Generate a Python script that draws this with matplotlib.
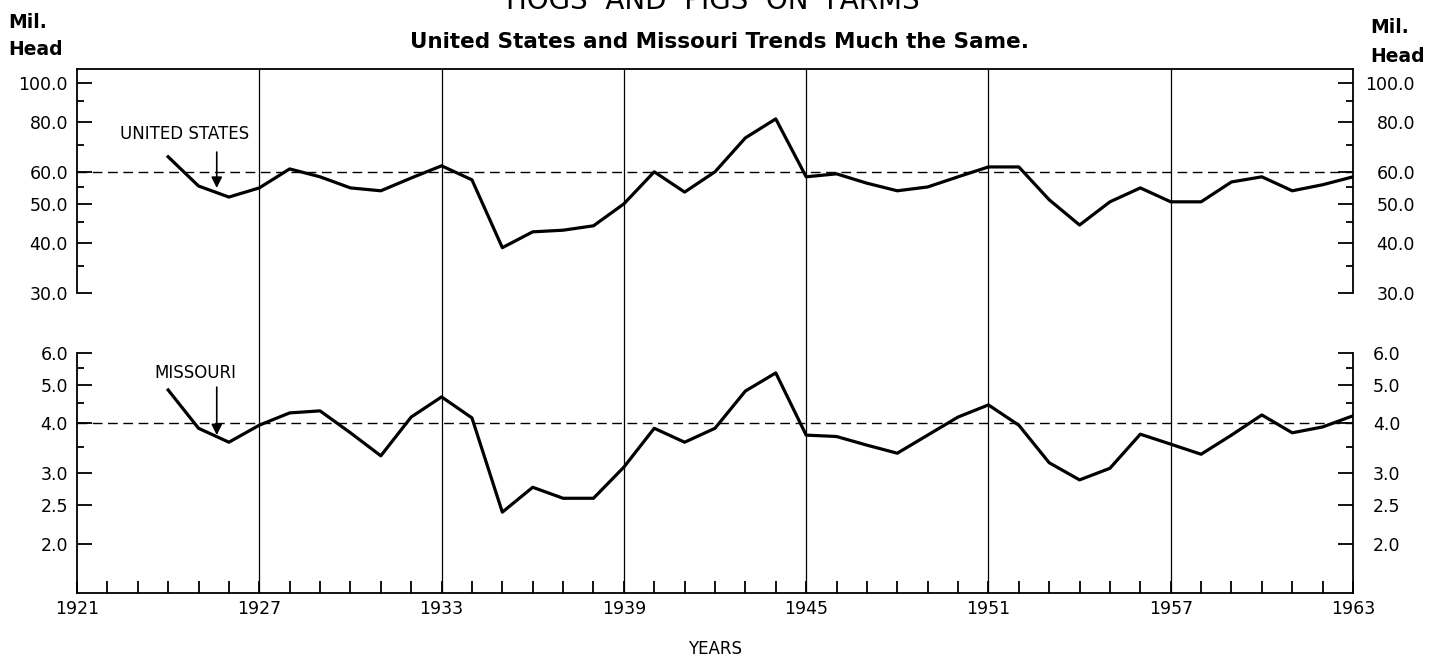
import matplotlib
matplotlib.use("Agg")
import matplotlib.pyplot as plt
from matplotlib.ticker import FixedLocator, NullFormatter

# hogs and pigs on farms, million head, January 1
years = list(range(1924, 1964))
us = [65.5, 55.4, 52.0, 54.8, 61.1, 58.4, 54.8, 53.9, 58.0, 62.2,
      57.4, 38.9, 42.6, 43.0, 44.1, 50.0, 60.1, 53.5, 60.1, 73.0,
      81.4, 58.4, 59.4, 56.3, 53.9, 55.1, 58.4, 61.8, 61.8, 51.2,
      44.3, 50.6, 54.8, 50.6, 50.6, 56.7, 58.4, 53.9, 55.8, 58.4]
missouri = [4.85, 3.89, 3.59, 3.96, 4.25, 4.30, 3.79, 3.32, 4.15, 4.66,
            4.13, 2.40, 2.77, 2.60, 2.60, 3.11, 3.89, 3.59, 3.89, 4.82,
            5.35, 3.74, 3.71, 3.53, 3.37, 3.74, 4.15, 4.45, 3.96, 3.19,
            2.89, 3.09, 3.76, 3.55, 3.35, 3.74, 4.20, 3.79, 3.92, 4.18]

us_ticks = [30, 40, 50, 60, 80, 100]
us_minor = [35, 45, 55, 70, 90]
mo_ticks = [2.0, 2.5, 3.0, 4.0, 5.0, 6.0]
mo_minor = [3.5, 4.5, 5.5]
year_labels = list(range(1921, 1964, 6))
us_ref = 60
mo_ref = 4.0

W, H = 1439, 661
fig = plt.figure(figsize=(W / 100, H / 100), dpi=100)
fig.patch.set_facecolor("white")


def box(x0, y0, x1, y1):
    # pixel box (top-left origin) -> figure fraction rect
    return [x0 / W, 1 - y1 / H, (x1 - x0) / W, (y1 - y0) / H]


X0, X1 = 77, 1353
TOP, US_BOT, MO_TOP, BOT = 69, 293, 353, 593
font = "DejaVu Sans"

# background frame with the six-year lines
bg = fig.add_axes(box(X0, TOP, X1, BOT))
bg.set_xlim(1921, 1963)
bg.set_ylim(0, 1)
for s in ["left", "right", "bottom"]:
    bg.spines[s].set_visible(False)
bg.spines["top"].set_linewidth(1.3)
bg.set_xticks([])
bg.set_yticks([])
for yr in year_labels[1:-1]:
    bg.axvline(yr, color="black", lw=0.9)

# united states panel
ax1 = fig.add_axes(box(X0, TOP, X1, US_BOT))
ax1.set_facecolor("none")
ax1.set_yscale("log")
ax1.set_xlim(1921, 1963)
ax1.set_ylim(30, 100 * 10 ** (14 / 402))
ax1.spines["top"].set_visible(False)
ax1.spines["bottom"].set_visible(False)
for s in ["left", "right"]:
    ax1.spines[s].set_linewidth(1.3)
ax1.set_xticks([])
ax1.yaxis.set_major_locator(FixedLocator(us_ticks))
ax1.yaxis.set_minor_locator(FixedLocator(us_minor))
ax1.yaxis.set_minor_formatter(NullFormatter())
ax1.set_yticklabels(["%.1f" % v for v in us_ticks])
ax1.tick_params(axis="y", which="major", direction="in", length=11, width=1.3,
                left=True, right=True, labelleft=True, labelright=True,
                labelsize=12.5, pad=6.5)
ax1.tick_params(axis="y", which="minor", direction="in", length=5, width=1.3,
                left=True, right=True)
for t in ax1.yaxis.get_major_ticks():
    t.label2.set_horizontalalignment("right")
    t.label2.set_x(1 + 53 / (X1 - X0))
ax1.plot(years, us, color="black", lw=2.3)
ax1.axhline(us_ref, color="black", lw=1.0, ls=(0, (7, 4)))
ax1.text(1924.55, 74.5, "UNITED STATES", ha="center", va="center",
         fontsize=12, family=font)
ax1.annotate("", xy=(1925.6, 54.8), xytext=(1925.6, 67.3),
             arrowprops=dict(arrowstyle="-|>", color="black", lw=1.2,
                             mutation_scale=16, shrinkA=0, shrinkB=0))

# missouri panel
ax2 = fig.add_axes(box(X0, MO_TOP, X1, BOT))
ax2.set_facecolor("none")
ax2.set_yscale("log")
ax2.set_xlim(1921, 1963)
ax2.set_ylim(6 * 10 ** (-240 / 400), 6.0)
ax2.spines["top"].set_visible(False)
for s in ["left", "right", "bottom"]:
    ax2.spines[s].set_linewidth(1.3)
ax2.yaxis.set_major_locator(FixedLocator(mo_ticks))
ax2.yaxis.set_minor_locator(FixedLocator(mo_minor))
ax2.yaxis.set_minor_formatter(NullFormatter())
ax2.set_yticklabels(["%.1f" % v for v in mo_ticks])
ax2.tick_params(axis="y", which="major", direction="in", length=11, width=1.3,
                left=True, right=True, labelleft=True, labelright=True,
                labelsize=12.5, pad=6.5)
ax2.tick_params(axis="y", which="minor", direction="in", length=5, width=1.3,
                left=True, right=True)
for t in ax2.yaxis.get_major_ticks():
    t.label2.set_x(1 + 11 / (X1 - X0))
ax2.xaxis.set_major_locator(FixedLocator(year_labels))
ax2.xaxis.set_minor_locator(FixedLocator([y for y in range(1922, 1963) if y not in year_labels]))
ax2.set_xticklabels([str(y) for y in year_labels])
ax2.tick_params(axis="x", which="both", direction="in", length=9, width=1.3,
                labelsize=12.5, pad=5)
ax2.plot(years, missouri, color="black", lw=2.3)
ax2.axhline(mo_ref, color="black", lw=1.0, ls=(0, (7, 4)))
ax2.text(1924.9, 5.35, "MISSOURI", ha="center", va="center",
         fontsize=12, family=font)
ax2.annotate("", xy=(1925.6, 3.74), xytext=(1925.6, 4.93),
             arrowprops=dict(arrowstyle="-|>", color="black", lw=1.2,
                             mutation_scale=16, shrinkA=0, shrinkB=0))
ax2.set_xlabel("YEARS", fontsize=12, labelpad=16)

# titles and unit labels
fig.text(713 / W, 1 - 9 / H, "HOGS  AND  PIGS  ON  FARMS", ha="center",
         va="baseline", fontsize=20, family=font)
fig.text(719 / W, 1 - 48 / H, "United States and Missouri Trends Much the Same.",
         ha="center", va="baseline", fontsize=15.5, fontweight="bold", family=font)
fig.text(8 / W, 1 - 28 / H, "Mil.", ha="left", va="baseline",
         fontsize=13.5, fontweight="bold", family=font)
fig.text(8 / W, 1 - 55 / H, "Head", ha="left", va="baseline",
         fontsize=13.5, fontweight="bold", family=font)
fig.text(1370 / W, 1 - 33 / H, "Mil.", ha="left", va="baseline",
         fontsize=13.5, fontweight="bold", family=font)
fig.text(1370 / W, 1 - 62 / H, "Head", ha="left", va="baseline",
         fontsize=13.5, fontweight="bold", family=font)

fig.savefig("out.png", dpi=100, facecolor="white")
